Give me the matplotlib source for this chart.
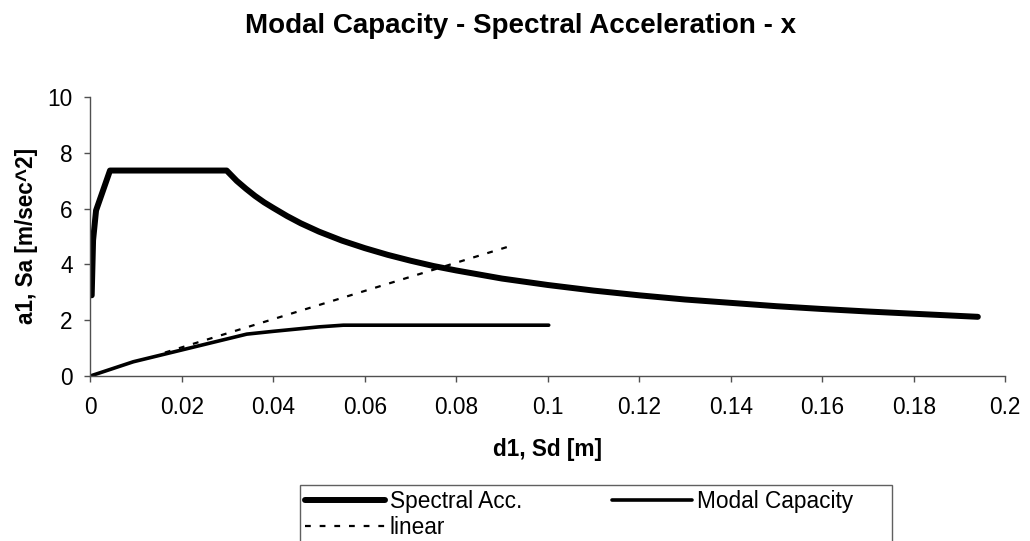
import matplotlib
matplotlib.use("Agg")
import matplotlib.pyplot as plt
from matplotlib.patches import Rectangle

plt.rcParams['font.family'] = ['Liberation Sans', 'DejaVu Sans']

# spectral acceleration curve (d1 [m], Sa [m/s^2])
spec_d = [0.0003, 0.0006, 0.00125, 0.0043, 0.0298, 0.032, 0.034, 0.036, 0.038, 0.04,
          0.043, 0.046, 0.05, 0.055, 0.06, 0.065, 0.07, 0.075, 0.08, 0.09,
          0.1, 0.11, 0.12, 0.13, 0.14, 0.15, 0.16, 0.17, 0.18, 0.194]
spec_a = [2.89, 4.86, 5.93, 7.36, 7.36, 6.99, 6.71, 6.45, 6.22, 6.02,
          5.73, 5.47, 5.17, 4.85, 4.58, 4.34, 4.13, 3.94, 3.78, 3.49,
          3.26, 3.06, 2.89, 2.74, 2.62, 2.50, 2.40, 2.31, 2.23, 2.12]

# modal capacity curve
cap_d = [0.0, 0.0094, 0.0342, 0.04, 0.045, 0.05, 0.0553, 0.1002]
cap_a = [0.0, 0.51, 1.5, 1.6, 1.68, 1.76, 1.82, 1.82]

# linear branch
lin_d = [0.0163, 0.0911]
lin_a = [0.84, 4.62]

xticks = [0, 0.02, 0.04, 0.06, 0.08, 0.1, 0.12, 0.14, 0.16, 0.18, 0.2]
xticklabels = ['0', '0.02', '0.04', '0.06', '0.08', '0.1', '0.12', '0.14', '0.16', '0.18', '0.2']
yticks = [0, 2, 4, 6, 8, 10]

fs = 16.3

fig = plt.figure(figsize=(10.3, 5.41), dpi=100)
ax = fig.add_axes([0.0877, 0.305, 0.8883, 0.516])

l1, = ax.plot(spec_d, spec_a, color='black', lw=4.3, solid_capstyle='round',
              solid_joinstyle='round', label='Spectral Acc.')
l2, = ax.plot(cap_d, cap_a, color='black', lw=2.6, solid_capstyle='round',
              solid_joinstyle='round', label='Modal Capacity')
l3, = ax.plot(lin_d, lin_a, color='black', lw=1.6, dashes=(2.6, 4.0), label='linear')

ax.set_xlim(0, 0.2)
ax.set_ylim(0, 10)
ax.set_xticks(xticks)
ax.set_xticklabels(xticklabels)
ax.set_yticks(yticks)
for s in ['top', 'right']:
    ax.spines[s].set_visible(False)
for s in ['left', 'bottom']:
    ax.spines[s].set_color('#505050')
    ax.spines[s].set_linewidth(1.0)
ax.tick_params(direction='out', length=4.3, width=1.0, color='#505050',
               labelsize=fs)
ax.tick_params(axis='x', pad=10)
ax.tick_params(axis='y', pad=8.5)

ax.set_xlabel('d1, Sd [m]', fontsize=fs, fontweight='bold')
ax.xaxis.set_label_coords(0.5, -0.222)
ax.set_ylabel('a1, Sa [m/sec^2]', fontsize=fs, fontweight='bold')
ax.yaxis.set_label_coords(-0.057, 0.5)
fig.text(0.505, 1 - 33 / 541, 'Modal Capacity - Spectral Acceleration - x', ha='center',
         va='baseline', fontsize=20, fontweight='bold')

# column-major fill: col 1 = Spectral Acc., linear ; col 2 = Modal Capacity
leg = ax.legend([l1, l3, l2], ['Spectral Acc.', 'linear', 'Modal Capacity'],
                loc='upper left', bbox_to_anchor=(0.291, 1 - 484 / 541),
                bbox_transform=fig.transFigure,
                ncol=2, frameon=False, fontsize=fs,
                handlelength=3.5, handletextpad=0.22, columnspacing=4.0,
                borderpad=0.25, labelspacing=0.15, borderaxespad=0)

# legend box is wider than its content, as in the original
fig.add_artist(Rectangle((300 / 1030, -0.02), 592 / 1030, (541 - 485) / 541 + 0.02,
                         transform=fig.transFigure, fill=False,
                         edgecolor='#606060', linewidth=1.0))

fig.savefig('out.png', dpi=100)
